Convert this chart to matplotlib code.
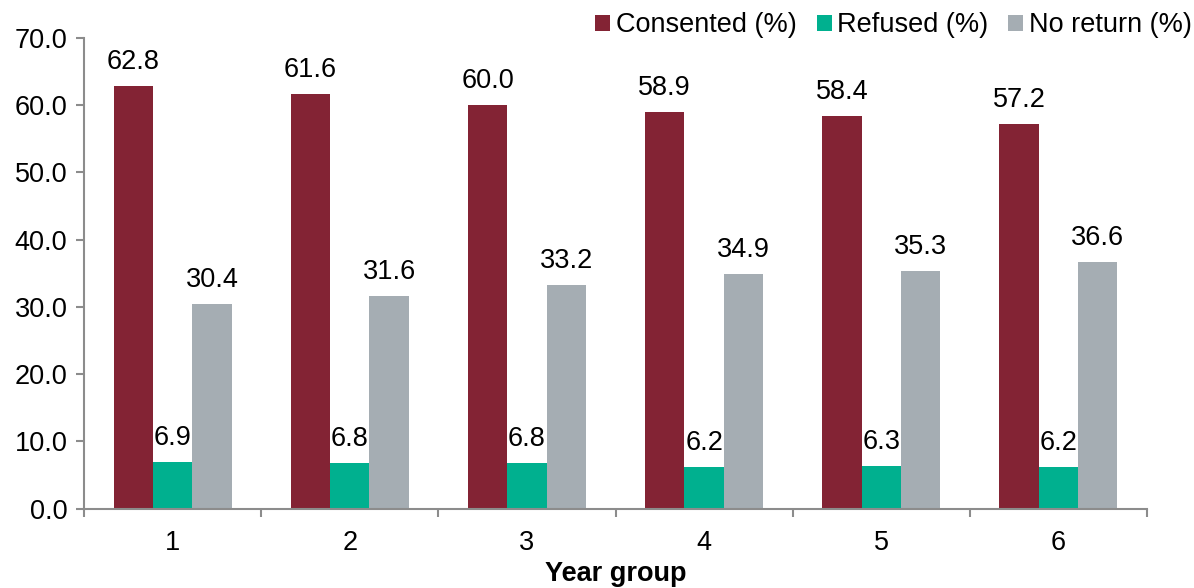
import matplotlib
matplotlib.use("Agg")
import matplotlib.pyplot as plt
import numpy as np

plt.rcParams['font.family'] = ['Liberation Sans', 'DejaVu Sans']

year_groups = ["1", "2", "3", "4", "5", "6"]
consented = [62.8, 61.6, 60.0, 58.9, 58.4, 57.2]
refused = [6.9, 6.8, 6.8, 6.2, 6.3, 6.2]
no_return = [30.4, 31.6, 33.2, 34.9, 35.3, 36.6]

series_names = ["Consented (%)", "Refused (%)", "No return (%)"]
series_colors = ["#832334", "#00B08F", "#A5ADB3"]
axis_color = "#8C8C8C"
fs = 19.5

fig = plt.figure(figsize=(11.94, 5.88), dpi=100)
ax = fig.add_axes([0.0704, 0.1349, 0.8902, 0.8010])

x = np.arange(len(year_groups))
width = 0.222
offsets = [-width, 0, width]
handles = []
for vals, name, color, off in zip([consented, refused, no_return], series_names, series_colors, offsets):
    bars = ax.bar(x + off, vals, width=width, color=color, label=name, linewidth=0)
    handles.append(bars)
    for xi, v in zip(x, vals):
        ax.annotate(f"{v:.1f}", (xi + off, v), xytext=(0, 8), textcoords="offset points",
                    ha="center", va="bottom", fontsize=fs, color="black")

ax.set_xlim(-0.5, len(year_groups) - 0.5)
ax.set_ylim(0, 70)
ax.set_yticks(np.arange(0, 71, 10))
ax.set_yticklabels([f"{v:.1f}" for v in np.arange(0, 71, 10)], fontsize=fs)
ax.set_xticks(x)
ax.set_xticklabels(year_groups, fontsize=fs)
ax.set_xticks(np.arange(-0.5, len(year_groups)), minor=True)
ax.tick_params(axis="x", which="major", length=0, pad=15)
ax.tick_params(axis="x", which="minor", length=6, width=1.5, color=axis_color, direction="out")
ax.tick_params(axis="y", length=6, width=1.5, color=axis_color, direction="out", pad=6)

for side in ["top", "right"]:
    ax.spines[side].set_visible(False)
for side in ["left", "bottom"]:
    ax.spines[side].set_color(axis_color)
    ax.spines[side].set_linewidth(1.5)

ax.set_xlabel("Year group", fontsize=fs, fontweight="bold", labelpad=4)

fig.legend(handles=handles, labels=series_names, loc="center right",
           bbox_to_anchor=(0.998, 0.957), ncol=3, frameon=False, fontsize=fs,
           handlelength=0.55, handleheight=0.55, handletextpad=0.2,
           columnspacing=0.75, borderpad=0, borderaxespad=0)

fig.savefig("out.png", dpi=100)
